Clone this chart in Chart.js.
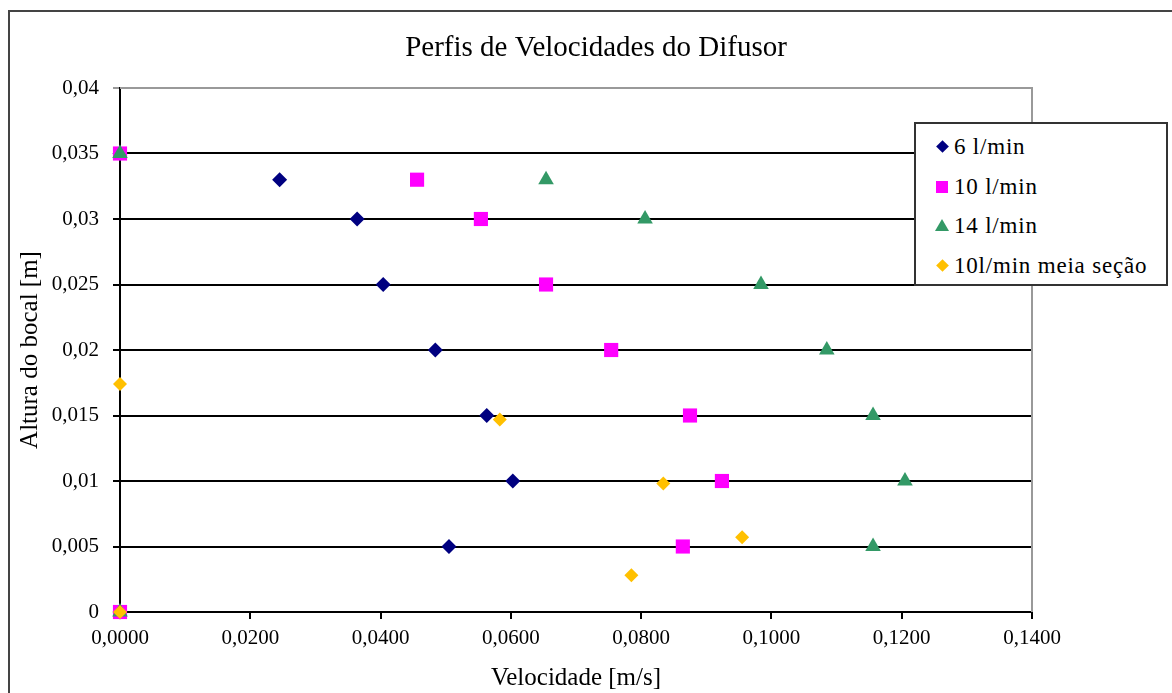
<!DOCTYPE html>
<html>
<head>
<meta charset="utf-8">
<script src="https://cdn.jsdelivr.net/npm/chart.js@4"></script>
<style>
    body { margin: 0; background: #fff; }
    #wrap { position: relative; width: 1172px; height: 693px; overflow: hidden; }
    #frame { position: absolute; left: 8px; top: 10px; width: 1300px; height: 800px; border: 2px solid #444; }
    #legend {
        position: absolute; left: 914px; top: 122px; width: 250px; height: 160px;
        border: 2px solid #333; background: #fff;
        font-family: 'Liberation Serif', 'Times New Roman', serif; font-size: 23px; letter-spacing: 0.8px; color: #000;
    }
    .item { position: absolute; left: 0; height: 24px; line-height: 24px; white-space: nowrap; }
    .item span.txt { position: absolute; left: 38px; top: 0; }
    .mk { position: absolute; }
    .dia { width: 9px; height: 9px; transform: rotate(45deg); left: 22px; top: 7px; }
    .sq { width: 12px; height: 12px; left: 20px; top: 6px; }
    .tri { width: 0; height: 0; left: 19px; top: 5px; border-left: 7px solid transparent; border-right: 7px solid transparent; }
</style>
</head>
<body>
<div id="wrap">
    <canvas id="chart" width="1172" height="693"></canvas>
    <div id="frame"></div>
    <div id="legend"></div>
</div>
<script>
// --- Data (velocity m/s, height m) ---
const seriesNames = ['6 l/min', '10 l/min', '14 l/min', '10l/min meia seção'];
const seriesColors = ['#000080', '#FF00FF', '#339966', '#FFC000'];

const vel6 = [0, 0.0245, 0.0364, 0.0404, 0.0484, 0.0563, 0.0603, 0.0505, 0];
const alt6 = [0.035, 0.033, 0.030, 0.025, 0.020, 0.015, 0.010, 0.005, 0];

const vel10 = [0, 0.0456, 0.0554, 0.0654, 0.0754, 0.0875, 0.0924, 0.0864, 0];
const alt10 = [0.035, 0.033, 0.030, 0.025, 0.020, 0.015, 0.010, 0.005, 0];

const vel14 = [0, 0.0654, 0.0806, 0.0984, 0.1085, 0.1156, 0.1205, 0.1156, 0];
const alt14 = [0.035, 0.033, 0.030, 0.025, 0.020, 0.015, 0.010, 0.005, 0];

const velMeia = [0, 0.0583, 0.0834, 0.0955, 0.0785, 0];
const altMeia = [0.0174, 0.0147, 0.0098, 0.0057, 0.0028, 0];

const xTicks = [0, 0.02, 0.04, 0.06, 0.08, 0.10, 0.12, 0.14];
const yTicks = [0, 0.005, 0.01, 0.015, 0.02, 0.025, 0.03, 0.035, 0.04];

function toPoints(xs, ys) {
    return xs.map((x, i) => ({ x: x, y: ys[i] }));
}

const serif = "'Liberation Serif', 'Times New Roman', serif";

// grey frame round the plot area (Excel style)
const plotFrame = {
    id: 'plotFrame',
    beforeDatasetsDraw(chart) {
        const a = chart.chartArea;
        const c = chart.ctx;
        c.save();
        c.strokeStyle = '#999';
        c.lineWidth = 2;
        c.beginPath();
        c.moveTo(a.left, a.top);
        c.lineTo(a.right, a.top);
        c.lineTo(a.right, a.bottom);
        c.stroke();
        c.restore();
    }
};

// datasets listed in reverse so the last series sits on top
const datasets = [
    { label: seriesNames[3], data: toPoints(velMeia, altMeia), pointStyle: 'rectRot', pointRadius: 7, color: seriesColors[3] },
    { label: seriesNames[2], data: toPoints(vel14, alt14), pointStyle: 'triangle', pointRadius: 9, color: seriesColors[2] },
    { label: seriesNames[1], data: toPoints(vel10, alt10), pointStyle: 'rect', pointRadius: 10, color: seriesColors[1] },
    { label: seriesNames[0], data: toPoints(vel6, alt6), pointStyle: 'rectRot', pointRadius: 7.5, color: seriesColors[0] }
].map(d => ({
    label: d.label,
    data: d.data,
    showLine: false,
    clip: false,
    pointStyle: d.pointStyle,
    pointRadius: d.pointRadius,
    pointHoverRadius: d.pointRadius,
    backgroundColor: d.color,
    borderColor: d.color,
    borderWidth: 0
}));

new Chart(document.getElementById('chart').getContext('2d'), {
    type: 'scatter',
    data: { datasets: datasets },
    options: {
        responsive: false,
        animation: false,
        layout: { padding: { left: 20, right: 0, top: 0, bottom: 0 } },
        plugins: {
            legend: { display: false },
            tooltip: { enabled: false },
            title: {
                display: true,
                text: 'Perfis de Velocidades do Difusor',
                color: '#000',
                font: { family: serif, size: 29, weight: 'normal' },
                padding: { top: 30.6, bottom: 22.6 }
            }
        },
        scales: {
            x: {
                type: 'linear',
                min: 0,
                max: 0.14,
                afterBuildTicks: s => { s.ticks = xTicks.map(v => ({ value: v })); },
                afterFit: s => { s.height = 81; },
                ticks: {
                    color: '#000',
                    font: { family: serif, size: 21 },
                    padding: 7,
                    maxRotation: 0,
                    callback: v => v.toFixed(4).replace('.', ',')
                },
                grid: { drawOnChartArea: false, color: '#000', lineWidth: 2, tickLength: 7 },
                border: { color: '#000', width: 2 },
                title: {
                    display: true,
                    text: 'Velocidade [m/s]',
                    color: '#000',
                    font: { family: serif, size: 25 },
                    padding: { top: -2, bottom: 0 }
                }
            },
            y: {
                type: 'linear',
                min: 0,
                max: 0.04,
                afterBuildTicks: s => { s.ticks = yTicks.map(v => ({ value: v })); },
                afterFit: s => { s.width = 100; },
                ticks: {
                    color: '#000',
                    font: { family: serif, size: 21 },
                    padding: 14,
                    callback: v => String(Math.round(v * 1000) / 1000).replace('.', ',')
                },
                grid: {
                    color: ctx => (ctx.tick && ctx.tick.value === 0.04 ? '#999' : '#000'),
                    lineWidth: 2,
                    tickLength: 7
                },
                border: { color: '#000', width: 2 },
                title: {
                    display: true,
                    text: 'Altura do bocal [m]',
                    color: '#000',
                    font: { family: serif, size: 25 },
                    padding: { top: -5, bottom: 0 }
                }
            },
            // empty axis on the right, only reserves the space beside the plot
            y2: {
                type: 'linear',
                position: 'right',
                display: true,
                afterFit: s => { s.width = 140; },
                ticks: { display: false },
                grid: { display: false },
                border: { display: false }
            }
        }
    },
    plugins: [plotFrame]
});

// --- Legend (Excel style box, overlapping the plot) ---
const legendShapes = ['dia', 'sq', 'tri', 'dia'];
const legendBox = document.getElementById('legend');
seriesNames.forEach((name, i) => {
    const item = document.createElement('div');
    item.className = 'item';
    item.style.top = (11 + i * 39.5) + 'px';
    const mk = document.createElement('div');
    mk.className = 'mk ' + legendShapes[i];
    if (legendShapes[i] === 'tri') {
        mk.style.borderBottom = '12px solid ' + seriesColors[i];
    } else {
        mk.style.background = seriesColors[i];
    }
    const txt = document.createElement('span');
    txt.className = 'txt';
    txt.textContent = name;
    item.appendChild(mk);
    item.appendChild(txt);
    legendBox.appendChild(item);
});
</script>
</body>
</html>
